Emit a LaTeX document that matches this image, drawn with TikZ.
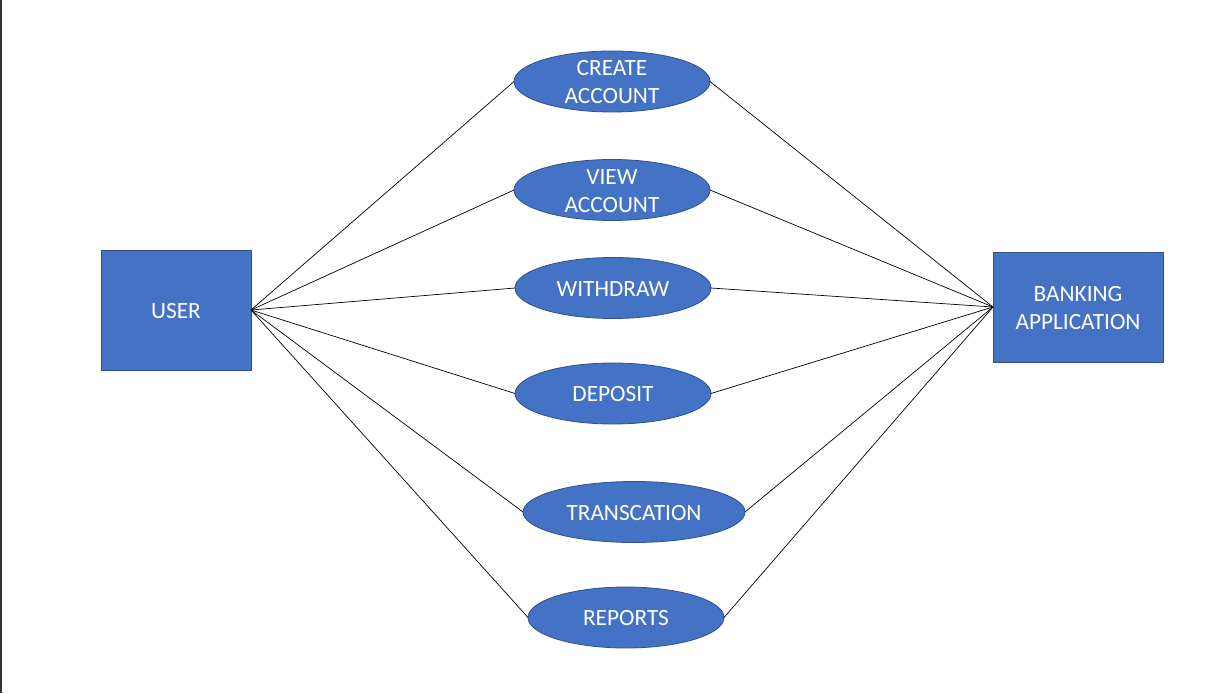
\documentclass[tikz,border=0pt]{standalone}
\usepackage{fontspec}
\setmainfont{Carlito}
\usetikzlibrary{shapes.geometric}
\definecolor{ufill}{HTML}{4472C4}
\definecolor{uedge}{HTML}{2F528F}
\begin{document}
\begin{tikzpicture}[x=1pt,y=-1pt,
  txt/.style={text=white,font=\fontsize{23.3}{28}\selectfont,align=center,inner sep=0pt},
  usecase/.style={ellipse,draw=uedge,line width=0.8pt,fill=ufill,minimum width=196pt,minimum height=61pt,inner sep=0pt,outer sep=0pt},
  actor/.style={rectangle,draw=uedge,line width=0.8pt,fill=ufill,inner sep=0pt,outer sep=0pt},
  link/.style={draw=black,line width=0.7pt}]
\useasboundingbox (0,0) rectangle (1206,693);
\fill[white] (0,0) rectangle (1206,693);
\draw[line width=2pt,black!80] (1,0) -- (1,693);

\node[actor,minimum width=150pt,minimum height=120pt,label={[txt,yshift=-1pt]center:USER}] (user) at (176,310) {};
\node[actor,minimum width=170pt,minimum height=110pt,label={[txt,yshift=-1pt]center:{BANKING\\APPLICATION}}] (bank) at (1078,307) {};

\node[usecase,label={[txt,yshift=-1pt]center:{CREATE\\ACCOUNT}}] (create) at (612,81.5) {};
\node[usecase,label={[txt,yshift=-1pt]center:{VIEW\\ACCOUNT}}] (view) at (612,190) {};
\node[usecase,label={[txt,yshift=-1pt]center:WITHDRAW}] (withdraw) at (613,288) {};
\node[usecase,label={[txt,yshift=-1pt]center:DEPOSIT}] (deposit) at (613,393.5) {};
\node[usecase,minimum width=222pt,label={[txt,yshift=-1pt]center:TRANSCATION}] (trans) at (634,512) {};
\node[usecase,label={[txt,yshift=-1pt]center:REPORTS}] (reports) at (626,617.5) {};

\foreach \n in {create,view,withdraw,deposit,trans,reports}{
  \path[link] (user.east) -- (\n.west);
  \path[link] (\n.east) -- (bank.west);
}
\end{tikzpicture}
\end{document}
